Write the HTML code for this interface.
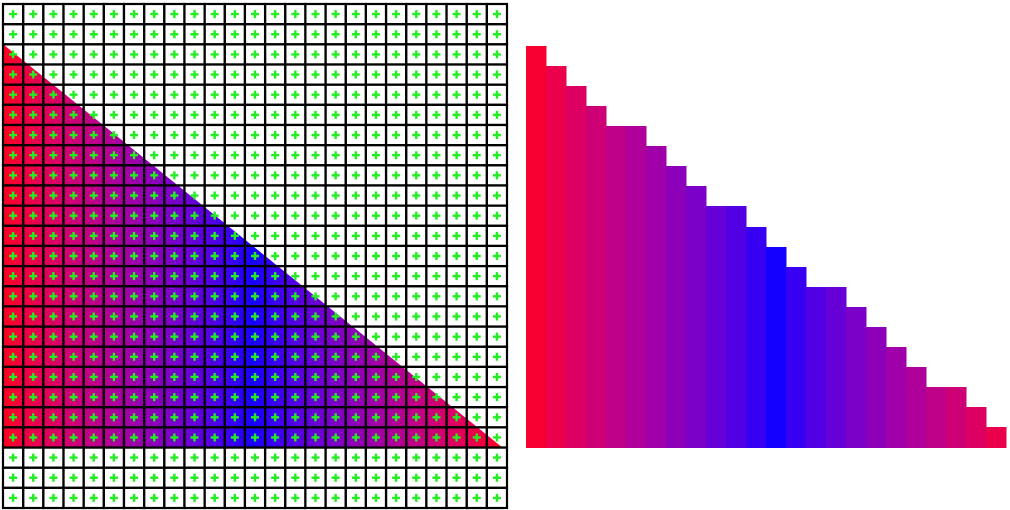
<!DOCTYPE html>
<html><head><meta charset="utf-8"><style>
html,body{margin:0;padding:0;background:#fff;}
svg{display:block;}
</style></head><body>
<svg id="c" width="1010" height="510" xmlns="http://www.w3.org/2000/svg">
<defs>
<linearGradient id="tri-grad" x1="3" y1="0" x2="503" y2="0" gradientUnits="userSpaceOnUse"></linearGradient>
</defs>
<polygon points="4,45 4,448 503,448" fill="url(#tri-grad)"/>
<g id="grid"></g>
<g id="cols"></g>
</svg>
<script>
// column tops (y of top edge of each rasterized column), 24 columns
const columnTops = [46,66,86,106,126,126,146,166,186,206,206,227,247,267,287,287,307,327,347,367,387,387,407,427];
const columnBottom = 448;
const gridCells = 25;

const NS = 'http://www.w3.org/2000/svg';
const RED = [255,0,34], BLUE = [20,0,255];
const GAMMA = 1.5;
function lin(v){ return Math.pow(v/255, GAMMA); }
function unlin(v){ return Math.round(255*Math.pow(v, 1/GAMMA)); }
function colorAt(t){ // t 0 = blue center, 1 = red edge
  const c = [0,1,2].map(k => unlin(lin(BLUE[k])*(1-t) + lin(RED[k])*t));
  return `rgb(${c[0]},${c[1]},${c[2]})`;
}
const grad = document.getElementById('tri-grad');
for (let s = 0; s <= 40; s++) {
  const off = s/40;
  const st = document.createElementNS(NS, 'stop');
  st.setAttribute('offset', off);
  st.setAttribute('stop-color', colorAt(Math.abs(off-0.5)*2));
  grad.appendChild(st);
}
const g = document.getElementById('grid');
const x0 = 3, y0 = 4, cell = 20.16;
for (let i = 0; i < gridCells; i++) {
  for (let j = 0; j < gridCells; j++) {
    const r = document.createElementNS(NS, 'rect');
    r.setAttribute('x', x0 + i*cell); r.setAttribute('y', y0 + j*cell);
    r.setAttribute('width', cell); r.setAttribute('height', cell);
    r.setAttribute('fill', 'none'); r.setAttribute('stroke', '#000'); r.setAttribute('stroke-width', '2.2');
    
    
    g.appendChild(r);
    const cx = x0 + (i+0.5)*cell, cy = y0 + (j+0.5)*cell;
    const p = document.createElementNS(NS, 'path');
    p.setAttribute('d', `M${cx-4},${cy}H${cx+4}M${cx},${cy-4}V${cy+4}`);
    p.setAttribute('stroke', '#22ee22'); p.setAttribute('stroke-width', '2.4');
    
    
    g.appendChild(p);
  }
}
const cg = document.getElementById('cols');
const cx0 = 526, cw = 20, center = 776;
columnTops.forEach((top, i) => {
  const x = cx0 + i*cw;
  const t = Math.min(1, Math.abs(x + cw/2 - center) / 250);
  const r = document.createElementNS(NS, 'rect');
  r.setAttribute('x', x); r.setAttribute('y', top);
  r.setAttribute('width', cw + 0.5); r.setAttribute('height', columnBottom - top);
  r.setAttribute('fill', colorAt(t));
  
  
  cg.appendChild(r);
});
</script>
</body></html>
